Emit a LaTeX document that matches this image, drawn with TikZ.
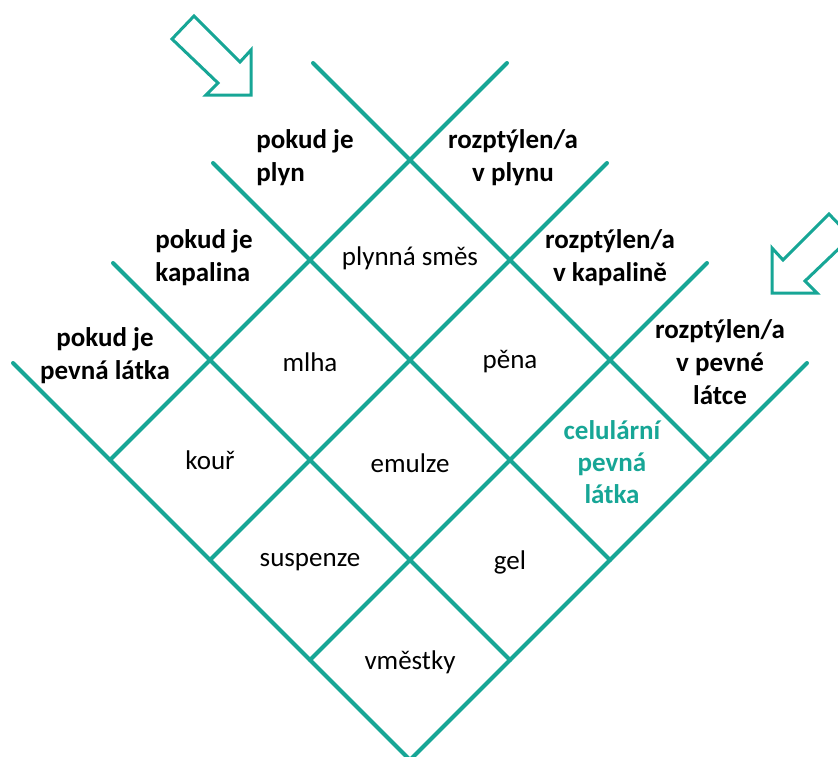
\documentclass[tikz,border=0pt]{standalone}
\usepackage{fontspec}
\setmainfont{Carlito}
\definecolor{teal1}{HTML}{17A696}
\begin{document}
\begin{tikzpicture}[x=0.5pt,y=-0.5pt,
  gridline/.style={draw=teal1,line width=2pt,line cap=round},
  arrowshape/.style={draw=teal1,line width=1.5pt,line join=miter,fill=white},
  celltext/.style={font=\fontsize{13.5}{16.5}\selectfont,align=center,inner sep=0pt},
  hdrtext/.style={font=\fontsize{13.5}{16.5}\selectfont\bfseries,align=center,inner sep=0pt},
  greentext/.style={font=\fontsize{13.5}{16}\selectfont\bfseries,align=center,inner sep=0pt,text=teal1}]
\useasboundingbox (0,0) rectangle (838,756);
\clip (0,0) rectangle (838,756);
% grid in rotated coordinates
\begin{scope}[shift={(410,760)},x={(50pt,50pt)},y={(-50pt,50pt)}]
  \foreach \k in {0,1,2,3}{
    \draw[gridline] (\k,0) -- (\k,3.97);
    \draw[gridline] (0,\k) -- (3.97,\k);
  }
\end{scope}
% hollow arrows
\draw[arrowshape] (172,39) -- (194,16) -- (240,62) -- (251,50) -- (251,95) -- (206,95) -- (218,83) -- cycle;
\draw[arrowshape] (851,237) -- (829,214) -- (783,260) -- (772,248) -- (772,293) -- (817,293) -- (805,281) -- cycle;
% header labels
\node[hdrtext,align=left,anchor=west] (h1) at (256,158) {pokud je\\plyn};
\node[hdrtext] (h2) at (513,158) {rozptýlen/a\\v plynu};
\node[hdrtext,align=left,anchor=west] (h3) at (155,258) {pokud je\\kapalina};
\node[hdrtext] (h4) at (610,258) {rozptýlen/a\\v kapalině};
\node[hdrtext] (h5) at (105,356) {pokud je\\pevná látka};
\node[hdrtext] (h6) at (720,362) {rozptýlen/a\\v pevné\\látce};
% cells
\node[celltext] (c1) at (410,258) {plynná směs};
\node[celltext] (c2) at (310,362) {mlha};
\node[celltext] (c3) at (510,362) {pěna};
\node[celltext] (c4) at (210,460) {kouř};
\node[celltext] (c5) at (410,463) {emulze};
\node[greentext] (c6) at (612,462) {celulární\\pevná\\látka};
\node[celltext] (c7) at (310,562) {suspenze};
\node[celltext] (c8) at (510,562) {gel};
\node[celltext] (c9) at (410,662) {vměstky};
\end{tikzpicture}
\end{document}
